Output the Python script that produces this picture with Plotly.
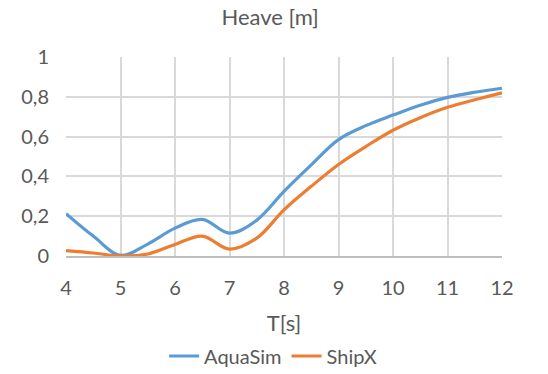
import plotly.graph_objects as go

T = [4, 4.5, 5, 5.5, 6, 6.5, 7, 7.5, 8, 8.5, 9, 9.5, 10, 10.5, 11, 11.5, 12]
aquasim = [0.213, 0.10, 0.003, 0.06, 0.14, 0.184, 0.115, 0.18, 0.325, 0.458, 0.585, 0.655, 0.708, 0.758, 0.797, 0.823, 0.843]
shipx = [0.027, 0.015, 0.0, 0.01, 0.058, 0.10, 0.035, 0.09, 0.232, 0.35, 0.46, 0.55, 0.632, 0.695, 0.747, 0.785, 0.82]

x_ticks = [4, 5, 6, 7, 8, 9, 10, 11, 12]
y_ticks = [0, 0.2, 0.4, 0.6, 0.8, 1]

FONT = "Lato"
GREY = "#595959"

fig = go.Figure()
fig.add_trace(go.Scatter(x=T, y=aquasim, mode="lines", name="AquaSim",
                         line=dict(color="#5B9BD5", width=3.2, shape="spline", smoothing=1)))
fig.add_trace(go.Scatter(x=T, y=shipx, mode="lines", name="ShipX",
                         line=dict(color="#ED7D31", width=3.2, shape="spline", smoothing=1)))

fig.update_layout(
    width=548, height=374,
    margin=dict(l=66, r=46, t=57, b=118, autoexpand=False),
    paper_bgcolor="white", plot_bgcolor="white",
    separators=",.",
    font=dict(family=FONT, color=GREY, size=20),
    title=dict(text="Heave [m]", x=0.493, xanchor="center", y=1 - 17 / 374, yanchor="middle",
               font=dict(family=FONT, size=22, color=GREY)),
    showlegend=True,
    legend=dict(orientation="h", x=0.475, xanchor="center", y=-(356 - 256) / 199, yanchor="middle",
                font=dict(family=FONT, size=20, color=GREY), tracegroupgap=0),
    xaxis=dict(range=[4, 12], tickvals=x_ticks, showgrid=True, gridcolor="#d9d9d9", gridwidth=1.5,
               showline=True, linecolor="#bfbfbf", linewidth=1.5, zeroline=False,
               ticks="", ticklabelstandoff=13, automargin=False,
               title=dict(text="T[s]", standoff=18, font=dict(family=FONT, size=22, color=GREY))),
    yaxis=dict(range=[0, 1], tickvals=y_ticks, showgrid=True, gridcolor="#d9d9d9", gridwidth=1.5,
               zeroline=False, showline=False, ticks="", ticklabelstandoff=16, automargin=False),
)

fig.write_html("out.html", config={"displayModeBar": False},
               post_script="document.body.style.margin='0';document.body.style.overflow='hidden';")
